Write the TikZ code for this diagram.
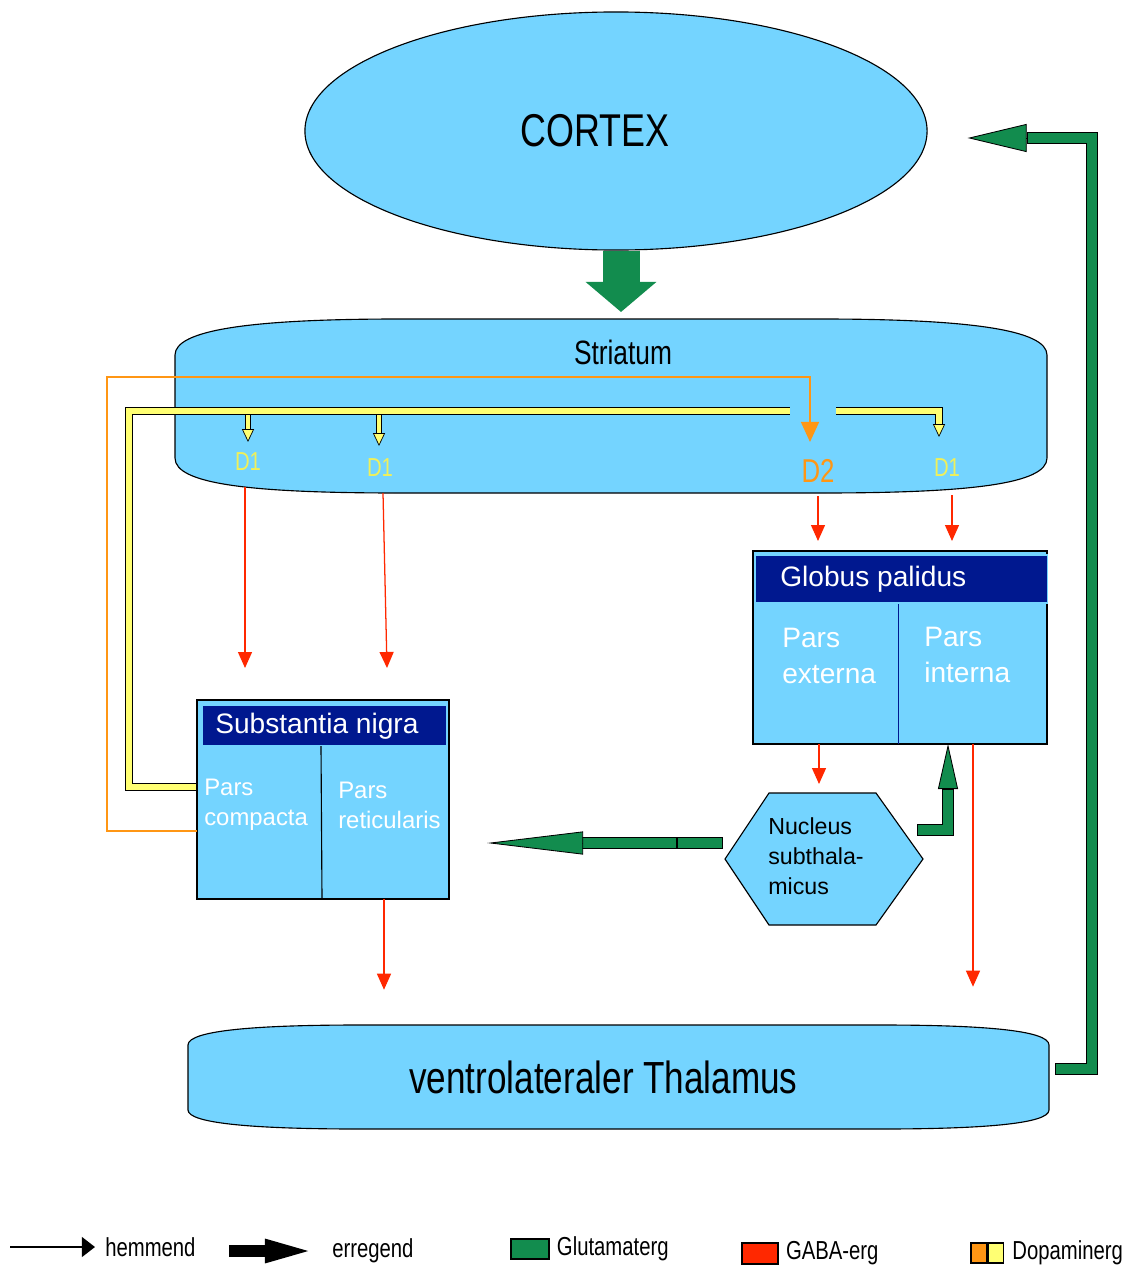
\documentclass[tikz,border=0pt]{standalone}
\usepackage{fontspec}
\setmainfont{Liberation Sans}
\newfontfamily\narrowsf{Liberation Sans}[FakeStretch=0.78]
\usepackage{tikz}
\usetikzlibrary{shapes.geometric, arrows.meta, positioning, calc}

\definecolor{nucleusblue}{RGB}{116,212,255}
\definecolor{headblue}{RGB}{0,24,143}
\definecolor{glu}{RGB}{18,140,78}
\definecolor{gabared}{RGB}{255,40,0}
\definecolor{dopaorange}{RGB}{255,150,20}
\definecolor{dopay}{RGB}{255,255,115}
\definecolor{dlabel}{RGB}{240,240,90}

\tikzset{
    brainpart/.style={draw=black, line width=0.8pt, fill=nucleusblue},
    region/.style={draw=black, line width=1pt, fill=nucleusblue, inner sep=0pt, outer sep=0pt},
    headbar/.style={fill=headblue, draw=nucleusblue, line width=0.8pt, inner sep=0pt, outer sep=0pt},
    titletext/.style={text=white, inner sep=0pt, anchor=west, font=\fontsize{20pt}{24pt}\selectfont},
    partext/.style={text=white, inner sep=0pt, anchor=west, align=left},
    dlab/.style={text=dlabel, inner sep=0pt, font=\narrowsf\fontsize{18.5pt}{22pt}\selectfont},
    gaba/.style={draw=gabared, line width=0.9pt, -{Triangle[length=0.4cm, width=0.35cm]}},
    dopapipe/.style={draw=black, line width=0.5pt, double=dopay, double distance=#1},
    dopapipe/.default=4pt,
    dopahead/.style={draw=black, line width=0.5pt, -{Triangle[length=0.32cm, width=0.3cm, fill=dopay]}},
    dopaline/.style={draw=dopaorange, line width=1pt, -{Triangle[length=0.5cm, width=0.45cm]}},
    glupipe/.style={preaction={draw=black, line width=8.5pt, shorten <=0pt, shorten >=0pt},
        draw=glu, line width=7.1pt, shorten <=0.7pt, shorten >=0.7pt, line join=miter},
    gluhead/.style 2 args={draw=black, line width=0.6pt, -{Triangle[length=#1, width=#2, fill=glu]}},
    legtext/.style={inner sep=0pt, anchor=west, font=\narrowsf\fontsize{18.5pt}{22pt}\selectfont},
    legsq/.style={draw=black, line width=1pt, inner sep=0pt}
}

\begin{document}
\begin{tikzpicture}[x=0.025cm, y=-0.025cm]
    \useasboundingbox (0,0) rectangle (1130,1268);
    \fill[white] (0,0) rectangle (1130,1268);

    % cortex and striatum
    \node[brainpart, ellipse, minimum width=15.55cm, minimum height=5.95cm,
        font=\narrowsf\fontsize{32.7pt}{36pt}\selectfont] (cortex) at (616,131) {CORTEX\hspace*{1.05cm}};

    \path[brainpart] (175,355) .. controls (175,330) and (250,319) .. (400,319) -- (820,319)
        .. controls (970,319) and (1047,330) .. (1047,355) -- (1047,458)
        .. controls (1047,484) and (970,493) .. (820,493) -- (400,493)
        .. controls (250,493) and (175,484) .. (175,458) -- cycle;
    \coordinate (strtop) at (621,319);
    \coordinate (strbot) at (611,493);
    \node[font=\narrowsf\fontsize{24pt}{28pt}\selectfont] (str) at (623,352) {Striatum};

    % thalamus
    \path[brainpart] (188,1045) .. controls (188,1030) and (260,1025) .. (360,1025) -- (880,1025)
        .. controls (980,1025) and (1049,1030) .. (1049,1045) -- (1049,1110)
        .. controls (1049,1124) and (980,1129) .. (880,1129) -- (360,1129)
        .. controls (260,1129) and (188,1124) .. (188,1110) -- cycle;
    \node[minimum width=21.525cm, minimum height=2.6cm, inner sep=0pt,
        font=\narrowsf\fontsize{32pt}{36pt}\selectfont] (thal) at (618.5,1077) {ventrolateraler Thalamus\hspace*{0.75cm}};

    % substantia nigra
    \node[region, anchor=north west, minimum width=6.3cm, minimum height=4.975cm] (sn) at (197,700) {};
    \node[headbar, anchor=north west, minimum width=6.1cm, minimum height=1.025cm] (snhead) at (202,705) {};
    \draw[line width=0.8pt] (321,746) -- (322,899);
    \node[titletext] (sntitle) at (215,726) {Substantia nigra};
    \node[partext, font=\fontsize{17pt}{21.3pt}\selectfont] (snc) at (204,805) {Pars\\compacta};
    \node[partext, font=\fontsize{17pt}{21.3pt}\selectfont] (snr) at (338,805) {Pars\\reticularis};

    % globus palidus
    \node[region, anchor=north west, minimum width=7.35cm, minimum height=4.825cm] (gp) at (753,551) {};
    \node[headbar, anchor=north west, minimum width=7.3cm, minimum height=1.2cm] (gphead) at (755,555) {};
    \draw[headblue, line width=0.7pt] (898,604) -- (898,744);
    \node[titletext] (gptitle) at (780,579) {Globus palidus};
    \node[partext, font=\fontsize{20pt}{25.6pt}\selectfont] (gpe) at (782,656) {Pars\\externa};
    \node[partext, font=\fontsize{20pt}{25.6pt}\selectfont] (gpi) at (924,655) {Pars\\interna};

    % nucleus subthalamicus
    \coordinate (stnc) at (824,859);
    \path[brainpart] ($(stnc)+(-99,0)$) -- ++(44,-66) -- ++(107,0) -- ++(47,66)
        -- ++(-47,66) -- ++(-107,0) -- cycle;
    \node[anchor=west, align=left, inner sep=0pt, font=\fontsize{16.5pt}{21.3pt}\selectfont]
        (stn) at (768,856) {Nucleus\\subthala-\\micus};

    % receptor labels
    \node[dlab] (d1a) at (248,462) {D1};
    \node[dlab] (d1b) at (380,468) {D1};
    \node[dlab, text=dopaorange, font=\narrowsf\fontsize{23.5pt}{26pt}\selectfont] (d2) at (818,471) {D2};
    \node[dlab] (d1c) at (947,468) {D1};

    % dopaminergic pathways
    \coordinate (nigroend) at (790,411);
    \coordinate (nigrostart2) at (836,411);
    \draw[dopaline] ($(sn.north west)+(0,131)$) -- ++(-90,0) |- ($(d2)+(-8,-94)$) -- ($(d2)+(-8,-29)$);
    \draw[dopapipe] ($(sn.north west)+(-1,87)$) -- ++(-67,0) |- (nigroend);
    \draw[dopapipe=2.6pt] ($(d1a |- nigroend)+(0,4)$) -- ($(d1a)+(0,-31)$);
    \draw[dopahead] ($(d1a)+(0,-33)$) -- ($(d1a)+(0,-20)$);
    \draw[dopapipe=2.6pt] ($(d1b |- nigroend)+(-1,4)$) -- ($(d1b)+(-1,-33)$);
    \draw[dopahead] ($(d1b)+(-1,-35)$) -- ($(d1b)+(-1,-22)$);
    \draw[dopapipe] (nigrostart2) -- ($(d1c)+(-8,-57)$) -- ($(d1c)+(-8,-42)$);
    \draw[dopahead] ($(d1c)+(-8,-44)$) -- ($(d1c)+(-8,-31)$);

    % gabaergic pathways
    \draw[gaba] ($(d1a |- strbot)+(-3,-6)$) -- ($(d1a |- sn.north)+(-3,-32)$);
    \draw[gaba] ($(d1b |- strbot)+(3,0)$) -- ($(d1b |- sn.north)+(7,-32)$);
    \draw[gaba] ($(d2 |- strbot)+(0,3)$) -- ($(d2 |- gp.north)+(0,-10)$);
    \draw[gaba] ($(d1c |- strbot)+(5,2)$) -- ($(d1c |- gp.north)+(5,-10)$);
    \draw[gaba] ($(gp.south west)+(66,0)$) -- ($(stnc)+(-5,-75)$);
    \draw[gaba] ($(sn.south west)+(187,0)$) -- ($(sn.south west |- thal.north)+(187,-35)$);
    \draw[gaba] ($(gp.south west)+(220,0)$) -- ($(gp.south west |- thal.north)+(220,-38)$);

    % glutamatergic pathways
    \draw[glu, line width=26.3pt, -{Triangle[length=0.75cm, width=1.725cm]}]
        ($(cortex.south)+(5,0)$) -- ($(strtop)+(0,-7)$);
    \draw[glupipe] ($(thal.east)+(6,-8)$) -- ++(37,0) |- ($(cortex.east)+(99,7)$);
    \draw[gluhead={1.475cm}{0.7cm}] ($(cortex.east)+(100,7)$) -- ($(cortex.east)+(40,7)$);
    \draw[glupipe] ($(stnc)+(93,-29)$) -- ++(31,0) -- ($(gp.south west)+(195,45)$);
    \draw[gluhead={1.125cm}{0.5cm}] ($(gp.south west)+(195,46)$) -- ($(gp.south west)+(195,0)$);
    \draw[glupipe] ($(stnc)+(-101,-16)$) -- ($(stnc)+(-147,-16)$);
    \draw[glupipe] ($(stnc)+(-147,-16)$) -- ($(stnc)+(-244,-16)$);
    \draw[gluhead={2.4cm}{0.575cm}] ($(stnc)+(-243,-16)$) -- ($(sn.east |- stnc)+(38,-16)$);

    % legend
    \node[legtext] (leghem) at (105,1247) {hemmend};
    \draw[line width=1.2pt, -{Triangle[length=0.33cm, width=0.5cm]}]
        ($(leghem.west)+(-95,0)$) -- ($(leghem.west)+(-10,0)$);
    \node[legtext] (legerr) at (332,1251) {erregend};
    \draw[line width=8.5pt, -{Triangle[length=1.375cm, width=0.5cm]}]
        ($(legerr.west)+(-103,0)$) -- ($(legerr.west)+(-12,0)$);
    \node[legsq, fill=glu, minimum width=0.95cm, minimum height=0.5cm] (sqglu) at (530,1249) {};
    \node[legtext, right=0.175cm of sqglu] (legglu) {Glutamaterg};
    \node[legsq, fill=gabared, minimum width=0.9cm, minimum height=0.525cm] (sqgaba) at (760,1253.5) {};
    \node[legtext, right=0.175cm of sqgaba] (leggaba) {GABA-erg};
    \node[legsq, fill=dopaorange, minimum width=0.4cm, minimum height=0.5cm] (sqora) at (979,1253) {};
    \node[legsq, fill=dopay, minimum width=0.375cm, minimum height=0.5cm, right=0pt of sqora] (sqyel) {};
    \node[legtext, right=0.2cm of sqyel] (legdopa) {Dopaminerg};
\end{tikzpicture}
\end{document}
